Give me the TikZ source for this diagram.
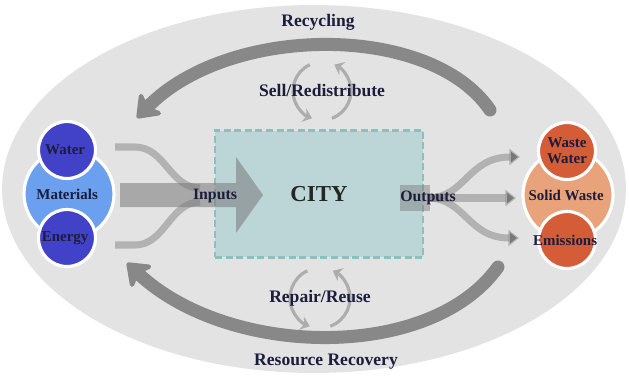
\documentclass[tikz,border=0pt]{standalone}
\usepackage{fontspec}
\setmainfont{Liberation Serif}
\usetikzlibrary{arrows.meta, positioning}
\definecolor{ringgrey}{RGB}{227,227,227}
\definecolor{loopgrey}{RGB}{136,136,136}
\definecolor{flowgrey}{RGB}{120,120,120}
\definecolor{cityteal}{RGB}{188,214,216}
\definecolor{cityedge}{RGB}{138,192,190}
\definecolor{inblue}{RGB}{66,66,200}
\definecolor{inlight}{RGB}{106,160,238}
\definecolor{outred}{RGB}{212,92,54}
\definecolor{outlight}{RGB}{233,163,122}
\definecolor{labelink}{RGB}{28,28,60}
\tikzset{bubble/.style={draw=white, line width=1.8pt, circle, inner sep=0pt, align=center, text=labelink, font=\bfseries\fontsize{8.5}{9}\selectfont}}
\tikzset{smallbubble/.style={bubble, minimum size=1.14cm}}
\tikzset{bigbubble/.style={bubble, minimum size=1.8cm}}
\tikzset{tag/.style={text=labelink, font=\bfseries\fontsize{10}{11}\selectfont}}
\tikzset{flowtag/.style={text=labelink, font=\bfseries\fontsize{9}{10}\selectfont}}
\tikzset{citybox/.style={draw=cityedge, fill=cityteal, line width=1.4pt, dash pattern=on 4pt off 2pt, minimum width=4.16cm, minimum height=2.54cm, text=black!85, font=\bfseries\fontsize{13}{14}\selectfont}}
\tikzset{bigloop/.style={draw=loopgrey, line width=7.4pt, line cap=round, -{Stealth[length=14pt, width=21pt, inset=4pt, round]}}}
\tikzset{smallloop/.style={draw=black!32, line width=1.8pt, -{Stealth[length=5pt, width=8pt]}}}
\tikzset{stream/.style={draw=flowgrey, draw opacity=0.45, line width=4pt}}
\tikzset{outstream/.style={stream, -{Triangle[length=6pt, width=9pt]}}}

\begin{document}
\begin{tikzpicture}[x=0.02cm, y=-0.02cm]
    \useasboundingbox (0,0) rectangle (629,376);

    % grey field round everything
    \fill [ringgrey] (314,189) ellipse [x radius=6.24cm, y radius=3.68cm];

    % the city
    \node [citybox] (city) at (319,194) { CITY };

    % resources going in
    \node [bigbubble, fill=inlight] (materials) at (69,194) { Materials };
    \node [smallbubble, fill=inblue] (water) at (67,150) { Water };
    \node [smallbubble, fill=inblue] (energy) at (67,238) { Energy };

    % what comes out
    \node [bigbubble, fill=outlight] (solidwaste) at (568,195) { Solid Waste };
    \node [smallbubble, fill=outred] (wastewater) at (567,151) { Waste\\Water };
    \node [smallbubble, fill=outred] (emissions) at (567,240) { };

    % inputs
    \coordinate (waterout) at (115,147);
    \coordinate (energyout) at (115,245);
    \coordinate (watermerge) at (200,188);
    \coordinate (energymerge) at (200,202);
    \draw [stream] (waterout) -- ++(20,0) .. controls (165,147) and (170,188) .. (watermerge);
    \draw [stream] (energyout) -- ++(20,0) .. controls (165,245) and (170,202) .. (energymerge);
    \fill [flowgrey, fill opacity=0.55] (120,183) -- (236,183) -- (236,157) -- (263,195)
        -- (236,233) -- (236,207) -- (120,207) -- cycle;
    \node [flowtag] (inputs) at (215,196) { Inputs };

    % outputs
    \coordinate (split) at (428,198);
    \coordinate (wwin) at (520,157);
    \coordinate (swin) at (516,198);
    \coordinate (emin) at (519,238);
    \fill [flowgrey, fill opacity=0.45] (400,185) rectangle (430,211);
    \draw [outstream] (split) .. controls (465,198) and (468,157) .. (wwin);
    \draw [outstream] (split) -- (swin);
    \draw [outstream] (split) .. controls (465,198) and (468,238) .. (emin);
    \node [flowtag] (outputs) at (428,198) { Outputs };
    \node [bubble, draw=none, minimum size=0pt] (emtext) at (emissions) { Emissions };

    % recycling and recovery loops
    \coordinate (recyclestart) at (490,110);
    \coordinate (recycleend) at (137,118);
    \coordinate (recoverstart) at (498,267);
    \coordinate (recoverend) at (127,263);
    \draw [bigloop] (recyclestart) .. controls (430,22) and (228,24) .. (recycleend);
    \draw [bigloop] (recoverstart) .. controls (430,362) and (228,358) .. (recoverend);

    \node [tag] (recycling) at (318,22) { Recycling };
    \node [tag] (recovery) at (326,362) { Resource Recovery };

    % small cycles
    \coordinate (sell) at (322,91);
    \coordinate (repair) at (320,298);
    \draw [smallloop] ([shift={(115:0.58cm)}]sell) arc [start angle=115, end angle=250, radius=0.58cm];
    \draw [smallloop] ([shift={(-70:0.58cm)}]sell) arc [start angle=-70, end angle=65, radius=0.58cm];
    \draw [smallloop] ([shift={(115:0.6cm)}]repair) arc [start angle=115, end angle=250, radius=0.6cm];
    \draw [smallloop] ([shift={(-70:0.6cm)}]repair) arc [start angle=-70, end angle=65, radius=0.6cm];
    \node [tag] (sellred) at (sell) { Sell/Redistribute };
    \node [tag] (repreuse) at (repair) { Repair/Reuse };
\end{tikzpicture}
\end{document}
